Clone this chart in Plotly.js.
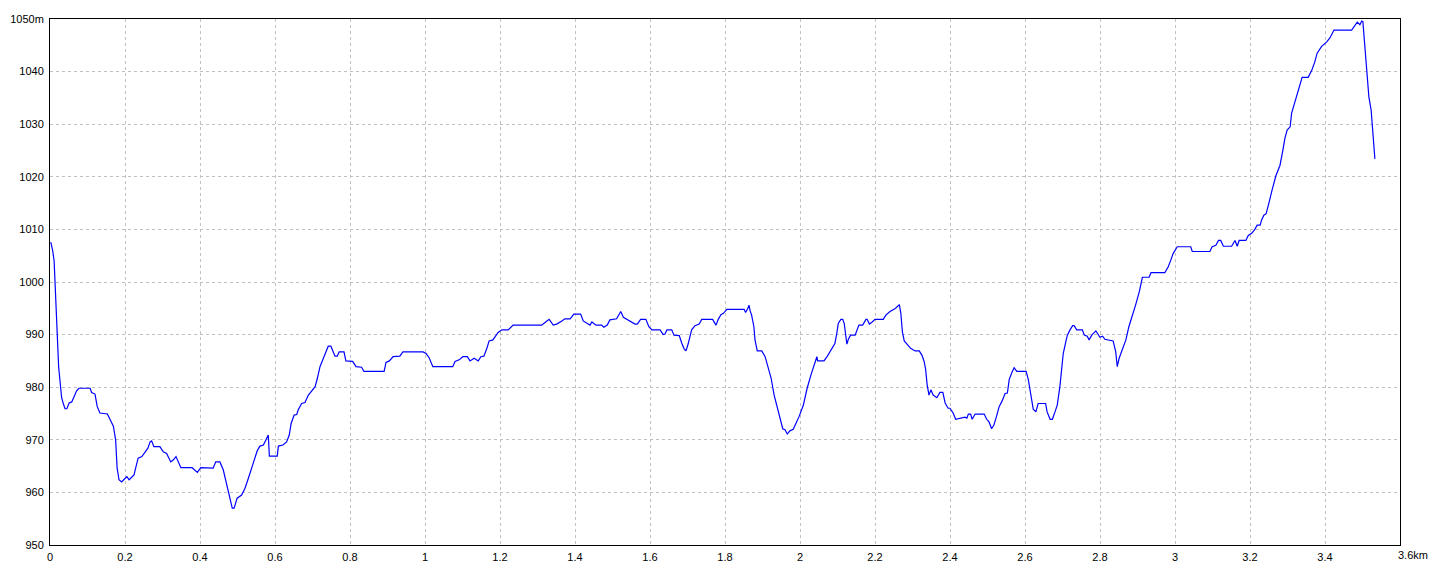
<!DOCTYPE html>
<html>
<head>
<meta charset="utf-8">
<script src="https://cdn.plot.ly/plotly-3.0.1.min.js"></script>
<style>
html,body{margin:0;padding:0;background:#fff;}
#chart{width:1440px;height:576px;}
</style>
</head>
<body>
<div id="chart"></div>
<script>
// Distance along route (km)
var distanceKm = [
0.002,0.007,0.011,0.013,0.016,0.019,0.021,0.023,0.026,0.029,0.031,0.035,0.040,0.045,0.051,0.058,0.065,0.071,0.077,0.107,
0.111,0.120,0.126,0.133,0.153,0.160,0.169,0.175,0.179,0.184,0.191,0.198,0.205,0.211,0.218,0.224,0.229,0.235,0.245,0.253,
0.261,0.267,0.271,0.277,0.293,0.302,0.311,0.322,0.329,0.336,0.342,0.349,0.379,0.393,0.402,0.435,0.442,0.453,0.462,0.471,
0.480,0.486,0.491,0.499,0.511,0.520,0.529,0.542,0.553,0.560,0.569,0.576,0.582,0.585,0.606,0.609,0.621,0.631,0.638,0.643,
0.651,0.658,0.662,0.671,0.680,0.689,0.698,0.707,0.713,0.720,0.729,0.736,0.742,0.749,0.755,0.760,0.766,0.771,0.784,0.789,
0.807,0.816,0.831,0.837,0.891,0.896,0.905,0.915,0.933,0.941,0.995,1.003,1.011,1.015,1.021,1.074,1.080,1.091,1.101,1.113,
1.120,1.131,1.142,1.149,1.157,1.165,1.171,1.181,1.189,1.195,1.205,1.222,1.235,1.311,1.320,1.331,1.342,1.351,1.365,1.373,
1.387,1.397,1.415,1.422,1.433,1.440,1.445,1.456,1.471,1.477,1.486,1.493,1.511,1.522,1.529,1.538,1.547,1.560,1.566,1.575,
1.589,1.597,1.605,1.627,1.635,1.640,1.645,1.658,1.664,1.678,1.685,1.691,1.696,1.702,1.711,1.720,1.731,1.738,1.767,1.776,
1.782,1.789,1.795,1.805,1.851,1.855,1.861,1.864,1.867,1.871,1.877,1.880,1.886,1.898,1.907,1.915,1.923,1.931,1.939,1.947,
1.954,1.960,1.966,1.973,1.982,1.989,1.998,2.009,2.019,2.029,2.037,2.045,2.047,2.064,2.073,2.085,2.093,2.098,2.102,2.109,
2.114,2.118,2.122,2.125,2.129,2.135,2.147,2.153,2.157,2.167,2.176,2.179,2.185,2.191,2.200,2.222,2.229,2.240,2.253,2.259,
2.265,2.269,2.273,2.278,2.286,2.295,2.307,2.318,2.325,2.331,2.335,2.339,2.344,2.349,2.355,2.365,2.373,2.381,2.387,2.395,
2.400,2.409,2.415,2.431,2.440,2.445,2.449,2.455,2.459,2.467,2.491,2.498,2.504,2.511,2.517,2.525,2.531,2.539,2.547,2.553,
2.558,2.565,2.571,2.578,2.603,2.609,2.613,2.618,2.622,2.629,2.635,2.655,2.659,2.667,2.673,2.680,2.686,2.693,2.698,2.702,
2.709,2.713,2.720,2.727,2.731,2.738,2.753,2.758,2.766,2.771,2.778,2.789,2.800,2.807,2.813,2.835,2.842,2.846,2.851,2.860,
2.869,2.877,2.886,2.896,2.905,2.913,2.931,2.936,2.973,2.982,2.989,2.995,3.006,3.042,3.046,3.093,3.099,3.109,3.116,3.122,
3.129,3.151,3.160,3.166,3.171,3.189,3.195,3.205,3.213,3.219,3.227,3.231,3.237,3.243,3.249,3.252,3.259,3.269,3.280,3.287,
3.293,3.299,3.307,3.311,3.317,3.325,3.331,3.339,3.355,3.365,3.373,3.379,3.391,3.404,3.413,3.424,3.471,3.478,3.486,3.493,
3.498,3.501,3.504,3.509,3.513,3.517,3.523,3.526,3.529,3.531,3.533
];
// Elevation (m)
var elevationM = [
1007.6,1006.0,1004.0,1000.4,995.6,991.3,986.7,983.9,981.7,979.0,978.0,977.0,975.9,975.9,977.0,977.2,978.5,979.3,979.8,979.8,
979.0,978.7,976.3,975.1,974.9,973.8,972.6,970.0,964.6,962.4,962.0,962.5,963.0,962.4,963.0,963.3,964.8,966.5,966.8,967.5,
968.4,969.6,969.8,968.7,968.7,967.7,967.4,965.8,966.2,966.8,965.8,964.7,964.7,963.8,964.7,964.6,965.8,965.8,964.3,961.7,
959.2,957.0,957.0,958.9,959.5,960.8,962.7,965.5,968.0,968.8,969.0,970.0,970.9,966.9,966.9,968.8,969.0,969.6,970.9,973.1,
974.7,974.8,975.7,976.9,977.1,978.5,979.3,980.1,981.7,983.9,985.5,986.7,987.8,987.8,986.7,985.9,985.9,986.7,986.7,985.0,
984.9,983.9,983.8,983.0,983.0,984.7,985.0,985.8,985.9,986.7,986.7,986.4,985.6,984.9,983.9,983.9,984.9,985.2,985.8,985.8,
985.0,985.5,985.0,985.8,985.9,987.4,988.8,989.0,989.9,990.4,990.9,990.9,991.8,991.8,992.3,992.9,991.8,992.0,992.6,993.0,
993.0,993.9,993.9,992.6,992.1,991.8,992.4,991.8,991.8,991.4,991.8,992.8,993.0,994.4,993.3,992.9,992.6,992.0,992.0,992.9,
992.9,991.5,990.9,990.9,990.0,990.1,990.9,990.9,989.9,989.8,988.3,987.3,986.9,988.3,990.9,991.7,992.0,992.9,992.9,991.8,
992.9,993.8,994.0,994.8,994.8,994.2,995.0,995.6,994.5,993.7,991.5,989.0,986.9,986.9,985.8,983.9,981.7,978.5,976.3,974.4,
972.1,971.9,971.1,971.7,972.0,973.1,974.5,976.6,979.8,982.3,983.9,985.8,985.0,985.0,985.9,987.2,988.3,990.2,992.1,992.9,
992.9,992.1,989.3,988.2,989.1,989.9,989.9,990.9,991.8,991.8,992.9,992.9,992.0,992.3,992.9,992.9,993.7,994.4,994.9,995.3,
995.7,994.0,990.5,988.8,988.1,987.4,986.9,986.9,986.1,984.9,983.4,980.5,978.5,979.5,978.5,978.0,979.0,979.0,977.0,976.0,
976.0,975.0,973.9,974.1,974.3,974.1,974.9,974.9,973.9,974.9,974.9,973.9,973.4,972.1,972.8,974.7,976.3,977.4,978.8,978.9,
981.5,982.8,983.7,983.0,983.0,981.4,979.5,977.3,975.8,975.3,976.9,976.9,975.3,973.9,973.9,975.3,976.6,980.1,983.9,986.4,
988.7,989.9,990.9,991.7,991.7,990.9,990.9,989.9,989.7,989.0,989.9,990.7,989.5,989.7,989.1,988.8,986.7,983.9,985.5,987.4,
989.0,991.5,993.5,995.9,998.2,1000.9,1000.9,1001.8,1001.8,1002.9,1004.2,1005.4,1006.7,1006.7,1005.8,1005.8,1006.7,1007.0,1007.9,1007.9,
1006.8,1006.8,1007.9,1006.8,1007.9,1007.9,1008.8,1009.3,1010.0,1010.8,1010.8,1011.8,1012.7,1013.0,1014.6,1015.6,1017.5,1020.2,1022.2,1024.8,
1027.3,1028.9,1029.5,1032.1,1033.6,1035.6,1037.1,1038.9,1038.9,1040.3,1041.9,1043.5,1044.8,1045.6,1046.4,1047.9,1047.9,1048.6,1049.4,1048.9,
1049.6,1049.5,1047.0,1043.2,1038.4,1035.2,1032.7,1030.2,1027.2,1024.5,1023.4
];
var xTickVals = [0,0.2,0.4,0.6,0.8,1,1.2,1.4,1.6,1.8,2,2.2,2.4,2.6,2.8,3,3.2,3.4,3.6];
var xTickText = ["0","0.2","0.4","0.6","0.8","1","1.2","1.4","1.6","1.8","2","2.2","2.4","2.6","2.8","3","3.2","3.4",""];
var xEndLabel = "3.6km";
var yTickVals = [950,960,970,980,990,1000,1010,1020,1030,1040,1050];
var yTickText = ["950","960","970","980","990","1000","1010","1020","1030","1040","1050m"];

var trace = {
  x: distanceKm, y: elevationM, type: 'scatter', mode: 'lines',
  line: {color: '#0000ff', width: 1.2}, hoverinfo: 'skip'
};
var axisFont = {family: 'Liberation Sans, Arial, sans-serif', size: 11, color: '#000'};
var layout = {
  width: 1440, height: 576,
  margin: {l: 50, r: 40, t: 19, b: 31, pad: 0},
  paper_bgcolor: '#fff', plot_bgcolor: '#fff',
  showlegend: false,
  xaxis: {
    range: [0, 3.6], tickmode: 'array', tickvals: xTickVals, ticktext: xTickText,
    showgrid: true, gridcolor: '#c0c0c0', griddash: '3px,3px', gridwidth: 1,
    zeroline: false, showline: true, linecolor: '#000', linewidth: 1, mirror: true,
    ticks: '', tickfont: axisFont, ticklabelstandoff: 2
  },
  yaxis: {
    range: [950, 1050], tickmode: 'array', tickvals: yTickVals, ticktext: yTickText,
    showgrid: true, gridcolor: '#c0c0c0', griddash: '3px,3px', gridwidth: 1,
    zeroline: false, showline: true, linecolor: '#000', linewidth: 1, mirror: true,
    ticks: '', tickfont: axisFont, ticklabelstandoff: 3
  },
  annotations: [{
    x: 3.6, xref: 'x', y: 0, yref: 'paper', text: xEndLabel, showarrow: false,
    xanchor: 'left', yanchor: 'top', xshift: -4, yshift: -2, font: axisFont
  }]
};
Plotly.newPlot('chart', [trace], layout, {staticPlot: true, displayModeBar: false});
</script>
</body>
</html>
